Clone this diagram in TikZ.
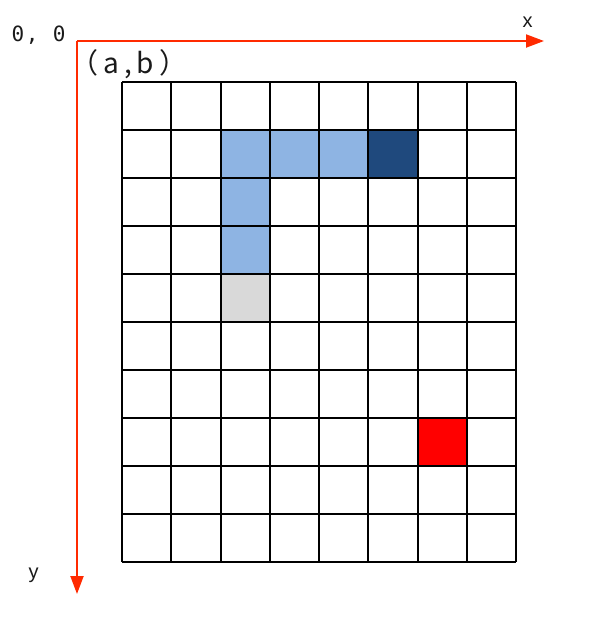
\documentclass[tikz,border=0pt]{standalone}
\usepackage{fontspec}
\setmainfont{Liberation Sans}
\newfontfamily\monofnt[LetterSpace=8]{DejaVu Sans Mono}
\newfontfamily\cjkfnt[LetterSpace=18]{Noto Sans CJK SC}
\usetikzlibrary{arrows.meta}
\definecolor{axisred}{HTML}{FF2A00}
\definecolor{lightblue}{HTML}{8EB4E3}
\definecolor{darkblue}{HTML}{1F497D}
\definecolor{lightgray}{HTML}{D9D9D9}
\definecolor{redcell}{HTML}{FF0000}
\definecolor{labeltext}{HTML}{1A1A1A}
\begin{document}
\begin{tikzpicture}[x=1pt,y=-1pt,
  axis/.style={draw=axisred,line width=2pt,-{Triangle[length=18pt,width=13pt]}},
  gridline/.style={draw=black,line width=2pt},
  lbl/.style={inner sep=0pt,text=labeltext}]
\useasboundingbox (0,0) rectangle (598,622);
% cell geometry
\def\gx{122}\def\gy{82}\def\cw{49.25}\def\ch{48}
% filled cells
\newcommand{\cellfill}[3]{\fill[#3] ({\gx+#1*\cw},{\gy+#2*\ch}) rectangle ({\gx+(#1+1)*\cw},{\gy+(#2+1)*\ch});}
\cellfill{2}{1}{lightblue}
\cellfill{3}{1}{lightblue}
\cellfill{4}{1}{lightblue}
\cellfill{5}{1}{darkblue}
\cellfill{2}{2}{lightblue}
\cellfill{2}{3}{lightblue}
\cellfill{2}{4}{lightgray}
\cellfill{6}{7}{redcell}
% grid
\foreach \i in {0,...,8} \draw[gridline] ({\gx+\i*\cw},\gy) -- ({\gx+\i*\cw},{\gy+10*\ch});
\foreach \j in {0,...,10} \draw[gridline] (\gx,{\gy+\j*\ch}) -- ({\gx+8*\cw},{\gy+\j*\ch});
% axes
\coordinate (O) at (77,41);
\coordinate (xend) at (544,41);
\coordinate (yend) at (77,594);
\draw[axis] (O) -- (xend);
\draw[axis] (O) -- (yend);
% labels
\node[lbl,font=\monofnt\fontsize{21}{24}\selectfont,anchor=base] (origin) at (38.5,41.5) {0, 0};
\node[lbl,font=\fontsize{20}{22}\selectfont] (xlabel) at (527.5,22) {x};
\node[lbl,font=\fontsize{20}{22}\selectfont] (ylabel) at (33.5,575.5) {y};
\node[lbl,font=\cjkfnt\fontsize{28}{30}\selectfont,anchor=base west] (ab) at (70,73) {（a,b）};
\end{tikzpicture}
\end{document}
